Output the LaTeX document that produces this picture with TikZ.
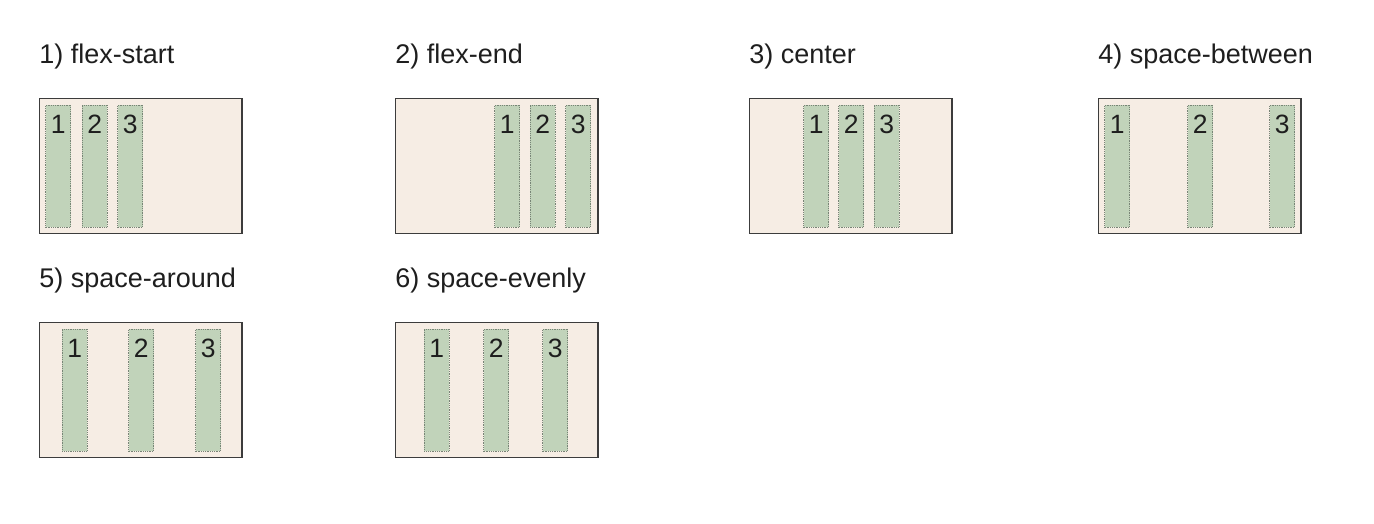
\documentclass[tikz,border=0pt]{standalone}
\usepackage{fontspec}
\setmainfont{Liberation Sans}
\usetikzlibrary{calc}
\definecolor{boxfill}{RGB}{246,237,228}
\definecolor{boxline}{RGB}{60,60,60}
\definecolor{itemfill}{RGB}{193,211,186}
\definecolor{itemline}{RGB}{120,132,118}
\definecolor{txt}{RGB}{30,30,30}
\tikzset{
  container/.style={draw=boxline, fill=boxfill, line width=1.2pt, inner sep=0pt, minimum width=202.8pt, minimum height=134.8pt, anchor=north west},
  flexitem/.style={draw=itemline, fill=itemfill, densely dotted, line width=0.8pt, inner sep=0pt, minimum width=24.8pt, minimum height=122.2pt, anchor=north west},
  numlabel/.style={text=txt, inner sep=0pt, anchor=base, font=\fontsize{26.5}{30}\selectfont},
  title/.style={text=txt, inner sep=0pt, anchor=base west, font=\fontsize{27}{30}\selectfont},
}
\begin{document}
\begin{tikzpicture}[x=1pt,y=-1pt]
\useasboundingbox (0,0) rectangle (1374,523);
\foreach \pid/\px/\py/\lab/\ia/\ib/\ic in {
  p1/38.6/98/{1) flex-start}/45.4/81.9/117.4,
  p2/394.6/98/{2) flex-end}/494.4/529.9/565.4,
  p3/748.6/98/{3) center}/803.4/838.4/873.9,
  p4/1097.6/98/{4) space-between}/1104.4/1187.4/1269.4,
  p5/38.6/322/{5) space-around}/61.9/128.4/195.4,
  p6/394.6/322/{6) space-evenly}/423.9/483.4/542.4}
{
  \node[title] (\pid-title) at (\px+0.5,\py-34.5) {\lab};
  \node[container] (\pid-box) at (\px,\py) {};
  \foreach \n/\ix in {1/\ia,2/\ib,3/\ic}{
    \node[flexitem] (\pid-item\n) at (\ix,\py+6.5) {};
    \node[numlabel] (\pid-num\n) at ($(\pid-item\n.north)+(0,29)$) {\n};
  }
}
\end{tikzpicture}
\end{document}
